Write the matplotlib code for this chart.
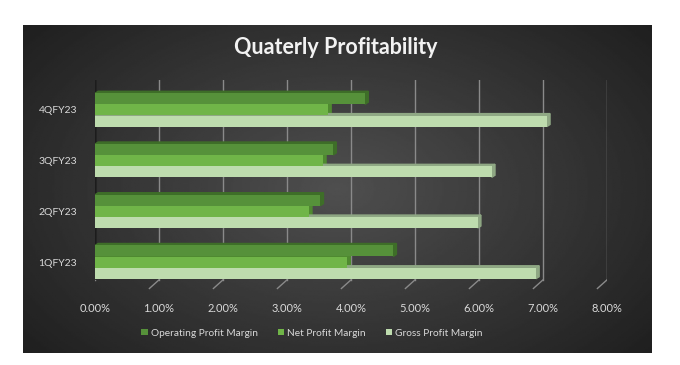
import numpy as np
import matplotlib
matplotlib.use("Agg")
import matplotlib.pyplot as plt
from matplotlib.patches import Polygon
from matplotlib.ticker import FuncFormatter

plt.rcParams.update({"font.family": ["Lato", "DejaVu Sans"], "font.size": 9})

quarters = ["1QFY23", "2QFY23", "3QFY23", "4QFY23"]
operating_margin = [4.66, 3.52, 3.72, 4.22]
net_margin = [3.94, 3.34, 3.56, 3.64]
gross_margin = [6.89, 5.98, 6.20, 7.06]

series = [
    ("Operating Profit Margin", operating_margin, "#56913a", "#3e6e28", 0.22),
    ("Net Profit Margin", net_margin, "#70b548", "#4f8a30", 0.0),
    ("Gross Profit Margin", gross_margin, "#bedcae", "#8fa884", -0.22),
]
bar_h = 0.215
dx, dy = 0.05, 0.04  # 3d depth of the bar ends

fig = plt.figure(figsize=(6.8, 3.65), dpi=100)
fig.patch.set_facecolor("white")

# chart area with radial gradient
bg = fig.add_axes([23 / 680, 1 - 353 / 365, 629 / 680, 328 / 365])
yy, xx = np.mgrid[-1:1:200j, -1:1:400j]
r = np.sqrt((xx * 0.9) ** 2 + (yy * 0.75) ** 2)
bg.imshow(0.31 - 0.16 * np.clip(r, 0, 1.3), cmap="gray", vmin=0, vmax=1,
          aspect="auto", extent=[0, 1, 0, 1])
bg.set_axis_off()

fig.text(0.494, 1 - 48 / 365, "Quaterly Profitability", ha="center", va="center",
         color="#f2f2f2", fontsize=15.5, fontweight="bold")

ax = fig.add_axes([95 / 680, 1 - 290 / 365, 512 / 680, 210 / 365])
ax.patch.set_alpha(0)
ax.set_xlim(0, 8)
ax.set_ylim(-0.55, 3.59)

ypos = np.arange(len(quarters))
gbot = -0.35
for x in range(0, 9):
    ax.plot([x, x], [gbot, 3.59], color="#8a8a8a", lw=1, zorder=1)
    ax.plot([x, x - 0.15], [gbot, -0.52], color="#8a8a8a", lw=1, zorder=1)
ax.plot([-0.02, -0.02], [gbot + 0.05, 3.55], color="#1c1c1c", lw=4, zorder=1.5)

handles = []
for name, vals, col, side, off in series:
    y = ypos + off
    b = ax.barh(y, vals, height=bar_h, color=col, zorder=3, label=name)
    handles.append(b)
    for v, yc in zip(vals, y):
        lo, hi = yc - bar_h / 2, yc + bar_h / 2
        ax.add_patch(Polygon([(v, lo), (v + dx, lo + dy), (v + dx, hi + dy), (v, hi)],
                             closed=True, color=side, zorder=2.5))
        ax.add_patch(Polygon([(0, hi), (dx, hi + dy), (v + dx, hi + dy), (v, hi)],
                             closed=True, color=side, zorder=2.5))

ax.set_yticks(ypos)
ax.set_yticklabels(quarters)
ax.set_xticks(range(0, 9))
ax.xaxis.set_major_formatter(FuncFormatter(lambda v, p: f"{v:.2f}%"))
ax.tick_params(axis="both", length=0, colors="#d9d9d9", labelsize=8)
ax.tick_params(axis="y", labelsize=7.5, pad=13)
ax.tick_params(axis="x", pad=9)
for s in ax.spines.values():
    s.set_visible(False)

leg = fig.legend(handles=handles, loc="center", bbox_to_anchor=(312 / 680, 1 - 333 / 365),
                 ncol=3, frameon=False, fontsize=7.3, handlelength=0.6, handleheight=0.6,
                 handletextpad=0.3, columnspacing=2.0)
for t in leg.get_texts():
    t.set_color("#d9d9d9")

fig.savefig("out.png", dpi=100)
